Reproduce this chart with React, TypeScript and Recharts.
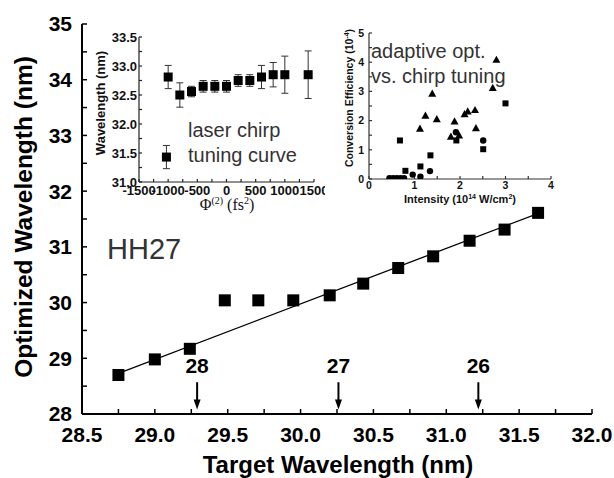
import React from 'react';
import { ComposedChart, Scatter, Line, XAxis, YAxis, ReferenceLine, ErrorBar } from 'recharts';

// ---------- main chart data ----------
const targetWavelength = [28.75, 29.0, 29.24, 29.48, 29.71, 29.95, 30.2, 30.43, 30.67, 30.91, 31.16, 31.4, 31.63];
const optimizedWavelength = [28.7, 28.98, 29.17, 30.04, 30.04, 30.04, 30.13, 30.34, 30.62, 30.83, 31.11, 31.31, 31.61];
const fitTarget = [28.75, 31.65];
const fitOptimized = [28.73, 31.62];
const harmonicX = [29.29, 30.26, 31.22];
const harmonicLabels = ['28', '27', '26'];
const arrowTopY = 28.57;
const arrowTipY = 28.08;
const harmonicLabelY = 28.86;
const mainXTicks = [28.5, 28.75, 29.0, 29.25, 29.5, 29.75, 30.0, 30.25, 30.5, 30.75, 31.0, 31.25, 31.5, 31.75, 32.0];
const mainXTickLabels = [28.5, 29.0, 29.5, 30.0, 30.5, 31.0, 31.5, 32.0];
const mainYTicks = [28, 28.5, 29, 29.5, 30, 30.5, 31, 31.5, 32, 32.5, 33, 33.5, 34, 34.5, 35];
const mainYTickLabels = [28, 29, 30, 31, 32, 33, 34, 35];

// ---------- inset 1: laser chirp tuning curve ----------
const chirpPhi = [-1030, -1000, -800, -600, -400, -200, 0, 200, 400, 600, 800, 1000, 1400];
const chirpWavelength = [31.43, 32.81, 32.5, 32.56, 32.65, 32.65, 32.65, 32.75, 32.75, 32.81, 32.85, 32.85, 32.85];
const chirpError = [0.2, 0.2, 0.21, 0.09, 0.1, 0.1, 0.1, 0.1, 0.1, 0.2, 0.21, 0.32, 0.41];
const inset1XTicks = [-1500, -1250, -1000, -750, -500, -250, 0, 250, 500, 750, 1000, 1250, 1500];
const inset1XTickLabels = [-1500, -1000, -500, 0, 500, 1000, 1500];
const inset1YTicks = [31.0, 31.25, 31.5, 31.75, 32.0, 32.25, 32.5, 32.75, 33.0, 33.25, 33.5];
const inset1YTickLabels = [31.0, 31.5, 32.0, 32.5, 33.0, 33.5];

// ---------- inset 2: conversion efficiency ----------
const triIntensity = [1.12, 1.24, 1.39, 1.49, 1.8, 1.88, 1.98, 2.1, 2.17, 2.33, 2.35, 2.72, 2.8];
const triEfficiency = [1.72, 2.17, 2.92, 2.05, 1.45, 1.97, 1.49, 2.22, 2.31, 2.36, 1.74, 3.12, 4.08];
const sqIntensity = [0.68, 0.8, 1.13, 1.35, 1.92, 2.51, 3.0];
const sqEfficiency = [1.32, 0.28, 0.43, 0.81, 1.32, 1.02, 2.59];
const circIntensity = [0.45, 0.53, 0.61, 0.69, 0.77, 0.96, 1.13, 1.34, 1.91, 2.51];
const circEfficiency = [0.03, 0.03, 0.03, 0.03, 0.03, 0.15, 0.08, 0.27, 1.6, 1.32];
const inset2XTicks = [0, 0.5, 1, 1.5, 2, 2.5, 3, 3.5, 4];
const inset2XTickLabels = [0, 1, 2, 3, 4];
const inset2YTicks = [0, 0.5, 1, 1.5, 2, 2.5, 3, 3.5, 4, 4.5, 5];
const inset2YTickLabels = [0, 1, 2, 3, 4, 5];

const SANS = "'Liberation Sans', Arial, Helvetica, sans-serif";
const SERIF = "'Liberation Serif', 'DejaVu Serif', serif";

const zip = (xs: number[], ys: number[]) => xs.map((x, i) => ({ x, y: ys[i] }));
const mainData = zip(targetWavelength, optimizedWavelength);
const fitData = zip(fitTarget, fitOptimized);
const arrowHeads = harmonicX.map((x) => ({ x, y: arrowTipY }));
const arrowLabels = harmonicX.map((x, i) => ({ x, y: harmonicLabelY, label: harmonicLabels[i] }));
const chirpData = chirpPhi.map((x, i) => ({ x, y: chirpWavelength[i], err: chirpError[i] }));
const triData = zip(triIntensity, triEfficiency);
const sqData = zip(sqIntensity, sqEfficiency);
const circData = zip(circIntensity, circEfficiency);

const fmt = (labels: number[], digits: number) => (v: number) =>
  labels.some((l) => Math.abs(l - v) < 1e-9) ? v.toFixed(digits) : '';

const square = (s: number) => (p: any) =>
  p.cx == null ? <g /> : <rect x={p.cx - s / 2} y={p.cy - s / 2} width={s} height={s} fill="#000" />;
const triangle = (p: any) =>
  p.cx == null ? <g /> : (
    <path d={`M${p.cx},${p.cy - 4.2} L${p.cx + 4},${p.cy + 3} L${p.cx - 4},${p.cy + 3} Z`} fill="#000" />
  );
const circle = (p: any) => (p.cx == null ? <g /> : <circle cx={p.cx} cy={p.cy} r={3.2} fill="#000" />);
const arrowHead = (p: any) =>
  p.cx == null ? <g /> : <path d={`M${p.cx - 3.5},${p.cy - 10} L${p.cx + 3.5},${p.cy - 10} L${p.cx},${p.cy} Z`} fill="#000" />;
const arrowText = (p: any) =>
  p.cx == null ? <g /> : (
    <text x={p.cx} y={p.cy + 7} textAnchor="middle" fontFamily={SANS} fontWeight="bold" fontSize={21} fill="#000">
      {p.payload.label}
    </text>
  );

const axisStroke = (w: number, c = '#000') => ({ stroke: c, strokeWidth: w });

function MainChart() {
  const tickStyle = { fontSize: 21, fontWeight: 'bold', fill: '#000', fontFamily: SANS };
  return (
    <ComposedChart width={614} height={478} margin={{ top: 24, right: 22, bottom: 0, left: 0 }}>
      <XAxis xAxisId="b" type="number" dataKey="x" domain={[28.5, 32]} ticks={mainXTicks} interval={0}
        orientation="bottom" height={64} tickSize={-5} tickMargin={18} allowDataOverflow
        tickFormatter={fmt(mainXTickLabels, 1)} axisLine={axisStroke(2)} tickLine={axisStroke(1.5)} tick={tickStyle} />
      <XAxis xAxisId="t" type="number" dataKey="x" domain={[28.5, 32]} ticks={mainXTicks} interval={0}
        orientation="top" height={0} tickSize={-5} allowDataOverflow tick={false}
        axisLine={axisStroke(2)} tickLine={axisStroke(1.5)} />
      <YAxis yAxisId="l" type="number" dataKey="y" domain={[28, 35]} ticks={mainYTicks} interval={0}
        width={82} tickSize={-5} tickMargin={15} allowDataOverflow
        tickFormatter={fmt(mainYTickLabels, 0)} axisLine={axisStroke(2)} tickLine={axisStroke(1.5)} tick={tickStyle} />
      <YAxis yAxisId="r" type="number" dataKey="y" domain={[28, 35]} ticks={mainYTicks} interval={0}
        orientation="right" width={0} tickSize={-5} allowDataOverflow tick={false}
        axisLine={axisStroke(2.5)} tickLine={axisStroke(2)} />
      <Line xAxisId="b" yAxisId="l" data={fitData} dataKey="y" type="linear" stroke="#000" strokeWidth={1.3}
        dot={false} activeDot={false} isAnimationActive={false} />
      <Scatter xAxisId="b" yAxisId="l" data={mainData} dataKey="y" shape={square(12)} isAnimationActive={false} />
      {harmonicX.map((x) => (
        <ReferenceLine key={x} xAxisId="b" yAxisId="l" segment={[{ x, y: arrowTopY }, { x, y: arrowTipY + 0.1 }]}
          stroke="#000" strokeWidth={2} />
      ))}
      <Scatter xAxisId="b" yAxisId="l" data={arrowHeads} dataKey="y" shape={arrowHead} isAnimationActive={false} />
      <Scatter xAxisId="b" yAxisId="l" data={arrowLabels} dataKey="y" shape={arrowText} isAnimationActive={false} />
    </ComposedChart>
  );
}

function ChirpInset() {
  const tickStyle = { fontSize: 13, fontWeight: 'bold', fill: '#111', fontFamily: SANS };
  const frame = axisStroke(1.2, '#222');
  return (
    <ComposedChart width={240} height={190} margin={{ top: 7, right: 11, bottom: 0, left: 0 }}>
      <XAxis xAxisId="b" type="number" dataKey="x" domain={[-1500, 1500]} ticks={inset1XTicks} interval={0}
        height={38} tickSize={-3} tickMargin={7} allowDataOverflow tickFormatter={fmt(inset1XTickLabels, 0)}
        axisLine={frame} tickLine={frame} tick={tickStyle} />
      <XAxis xAxisId="t" type="number" dataKey="x" domain={[-1500, 1500]} ticks={inset1XTicks} interval={0}
        orientation="top" height={0} tickSize={-3} allowDataOverflow tick={false} axisLine={frame} tickLine={frame} />
      <YAxis yAxisId="l" type="number" dataKey="y" domain={[31, 33.5]} ticks={inset1YTicks} interval={0}
        width={54} tickSize={-3} tickMargin={5} allowDataOverflow tickFormatter={fmt(inset1YTickLabels, 1)}
        axisLine={frame} tickLine={frame} tick={tickStyle} />
      <YAxis yAxisId="r" type="number" dataKey="y" domain={[31, 33.5]} ticks={inset1YTicks} interval={0}
        orientation="right" width={0} tickSize={-3} allowDataOverflow tick={false} axisLine={frame} tickLine={frame} />
      <Scatter xAxisId="b" yAxisId="l" data={chirpData} dataKey="y" shape={square(9)} isAnimationActive={false}>
        <ErrorBar dataKey="err" direction="y" width={3.5} stroke="#333" strokeWidth={1} isAnimationActive={false} />
      </Scatter>
    </ComposedChart>
  );
}

function EfficiencyInset() {
  const tickStyle = { fontSize: 10.5, fontWeight: 'bold', fill: '#111', fontFamily: SANS };
  const frame = axisStroke(1.2, '#333');
  return (
    <ComposedChart width={230} height={185} margin={{ top: 8, right: 14, bottom: 0, left: 0 }}>
      <XAxis xAxisId="b" type="number" dataKey="x" domain={[0, 4]} ticks={inset2XTicks} interval={0}
        height={31} tickSize={-3} tickMargin={6} allowDataOverflow tickFormatter={fmt(inset2XTickLabels, 0)}
        axisLine={frame} tickLine={frame} tick={tickStyle} />
      <XAxis xAxisId="t" type="number" dataKey="x" domain={[0, 4]} ticks={inset2XTicks} interval={0}
        orientation="top" height={0} tickSize={-3} allowDataOverflow tick={false} axisLine={frame} tickLine={frame} />
      <YAxis yAxisId="l" type="number" dataKey="y" domain={[0, 5]} ticks={inset2YTicks} interval={0}
        width={34} tickSize={-3} tickMargin={8} allowDataOverflow tickFormatter={fmt(inset2YTickLabels, 0)}
        axisLine={frame} tickLine={frame} tick={tickStyle} />
      <YAxis yAxisId="r" type="number" dataKey="y" domain={[0, 5]} ticks={inset2YTicks} interval={0}
        orientation="right" width={0} tickSize={-3} allowDataOverflow tick={false} axisLine={frame} tickLine={frame} />
      <Scatter xAxisId="b" yAxisId="l" data={circData} dataKey="y" shape={circle} isAnimationActive={false} />
      <Scatter xAxisId="b" yAxisId="l" data={sqData} dataKey="y" shape={square(6)} isAnimationActive={false} />
      <Scatter xAxisId="b" yAxisId="l" data={triData} dataKey="y" shape={triangle} isAnimationActive={false} />
    </ComposedChart>
  );
}

function TextOverlay() {
  const gray = '#333';
  return (
    <svg width={614} height={478} style={{ position: 'absolute', left: 0, top: 0, pointerEvents: 'none' }}>
      <text x={338} y={473} textAnchor="middle" fontFamily={SANS} fontWeight="bold" fontSize={24} fill="#000">
        Target Wavelength (nm)
      </text>
      <text transform="translate(32,217) rotate(-90)" textAnchor="middle" fontFamily={SANS} fontWeight="bold"
        fontSize={24.5} fill="#000">
        Optimized Wavelength (nm)
      </text>
      <text x={107} y={259} fontFamily={SANS} fontSize={29} fill={gray}>HH27</text>

      <text transform="translate(105,103) rotate(-90)" textAnchor="middle" fontFamily={SANS} fontWeight="bold"
        fontSize={13} fill="#111">
        Wavelength (nm)
      </text>
      <text x={227} y={210} textAnchor="middle" fontFamily={SERIF} fontSize={16} fill="#111">
        Φ<tspan fontSize={10} dy={-6}>(2)</tspan><tspan dy={6}> (fs</tspan><tspan fontSize={10} dy={-6}>2</tspan>
        <tspan dy={6}>)</tspan>
      </text>
      <text x={188} y={137} fontFamily={SANS} fontSize={20} fill={gray}>laser chirp</text>
      <text x={188} y={162} fontFamily={SANS} fontSize={20} fill={gray}>tuning curve</text>

      <text transform="translate(353,98) rotate(-90)" textAnchor="middle" fontFamily={SANS} fontWeight="bold"
        fontSize={10.5} fill="#111">
        Conversion Efficiency (10<tspan fontSize={7} dy={-4}>-4</tspan><tspan dy={4}>)</tspan>
      </text>
      <text x={460} y={203} textAnchor="middle" fontFamily={SANS} fontWeight="bold" fontSize={11} fill="#111">
        Intensity (10<tspan fontSize={7} dy={-4}>14</tspan><tspan dy={4}> W/cm</tspan>
        <tspan fontSize={7} dy={-4}>2</tspan><tspan dy={4}>)</tspan>
      </text>
      <text x={371} y={58} fontFamily={SANS} fontSize={20} fill={gray}>adaptive opt.</text>
      <text x={371} y={83} fontFamily={SANS} fontSize={20} fill={gray}>vs. chirp tuning</text>
    </svg>
  );
}

export default function App() {
  return (
    <div style={{ position: 'absolute', left: 0, top: 0, width: 614, height: 478, background: '#fff', overflow: 'hidden' }}>
      <div style={{ position: 'absolute', left: 0, top: 0 }}>
        <MainChart />
      </div>
      <div style={{ position: 'absolute', left: 85, top: 30 }}>
        <ChirpInset />
      </div>
      <div style={{ position: 'absolute', left: 335, top: 25 }}>
        <EfficiencyInset />
      </div>
      <TextOverlay />
    </div>
  );
}
